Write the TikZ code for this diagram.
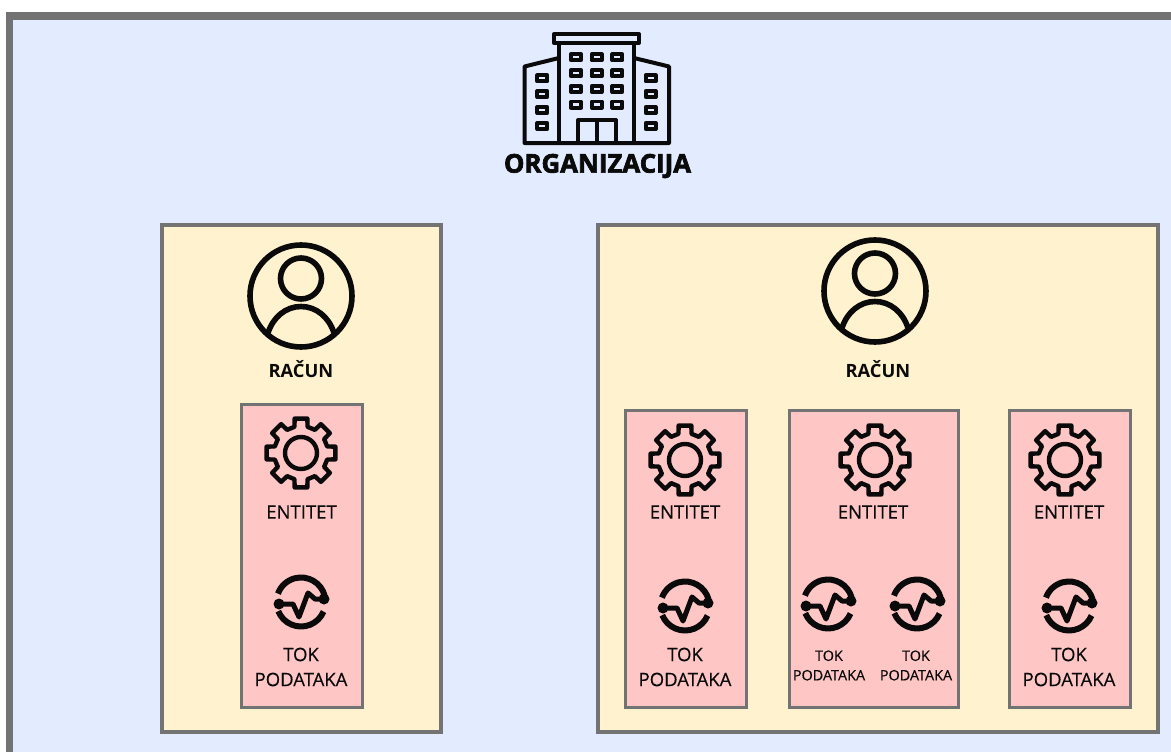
\documentclass[tikz,border=0pt]{standalone}
\usepackage{fontspec}
\setmainfont{Open Sans}
\newfontfamily\heavyfont[BoldFeatures={FakeBold=2.6}]{Open Sans}
\newfontfamily\labfont[FakeBold=0.3]{Open Sans}
\definecolor{frameg}{HTML}{737373}
\definecolor{orgbg}{HTML}{E2EBFF}
\definecolor{acct}{HTML}{FFF2CF}
\definecolor{pinkbg}{HTML}{FFC6C6}
\definecolor{ink}{HTML}{0A0A0A}
\tikzset{
  acctbox/.style={draw=frameg,fill=acct,line width=4pt},
  entbox/.style={draw=frameg,fill=pinkbg,line width=3pt},
  icon/.style={draw=ink,line width=4pt,line join=round,line cap=round},
  winbox/.style={icon,line width=3.8pt},
  lab/.style={inner sep=0pt,align=center,text=ink},
  biglab/.style={lab,font=\fontsize{18.5}{25}\selectfont\labfont},
  smalllab/.style={lab,font=\fontsize{14.4}{19.5}\selectfont\labfont},
  acctlab/.style={lab,font=\fontsize{18.3}{20}\selectfont\bfseries},
  orglab/.style={lab,font=\fontsize{25.8}{24}\selectfont\heavyfont\bfseries},
}
\newcommand{\personicon}[2]{%
  \begin{scope}[shift={(#1,#2)}]
    \draw[icon,line width=5.6pt] (0,0) circle (51);
    \draw[icon,line width=5.6pt] (0,-17.5) circle (20.5);
    \draw[icon,line width=5.6pt,line cap=butt] (-33,37) .. controls (-28,21) and (-15,10.5) .. (0,10.5) .. controls (15,10.5) and (28,21) .. (33,37);
  \end{scope}}
\newcommand{\flowicon}[2]{%
  \begin{scope}[shift={(#1,#2)}]
    \draw[icon,line width=6pt,line cap=butt] (23:24.5) arc (23:158:24.5);
    \draw[icon,line width=6pt,line cap=butt] (-15:24.5) arc (-15:-160:24.5);
    \draw[icon,line width=5pt] (-22,2) -- (-8,2) -- (-2,15) -- (7,-9) -- (14,-3) -- (23,-3);
    \fill[ink] (-22,2) circle (5.5) (23,-3) circle (5.5);
  \end{scope}}
\begin{document}
\begin{tikzpicture}[x=1pt,y=-1pt]
\useasboundingbox (0,0) rectangle (1171,752);
\fill[white] (0,0) rectangle (1171,752);
\fill[orgbg] (9.7,16) rectangle (1171,752);
\draw[frameg,line width=7.5pt] (9.7,752) -- (9.7,16) -- (1171,16);
% building
\begin{scope}
  \draw[icon] (554,34) rectangle (639,43);
  \draw[icon] (559,43) -- (559,143) (634,43) -- (634,143);
  \draw[icon] (559,58) -- (524.5,66.5) -- (524.5,143) -- (669,143) -- (669,66.5) -- (634,58);
  \foreach \cx in {576,596.7,617.3} \foreach \cy in {57.3,73.3,89,104.7}
    \draw[winbox] (\cx-5,\cy-3.1) rectangle (\cx+5,\cy+3.1);
  \foreach \cx in {542.3,650.7} \foreach \cy in {78.3,94,110,126}
    \draw[winbox] (\cx-5,\cy-3.1) rectangle (\cx+5,\cy+3.1);
  \draw[icon] (578,143) -- (578,120) -- (616,120) -- (616,143) (597,120) -- (597,143);
\end{scope}
\node[orglab] (org) at (597.5,166) {ORGANIZACIJA};
% accounts
\draw[acctbox] (162,225) rectangle (441,731.5);
\draw[acctbox] (598,225) rectangle (1158,731.5);
\personicon{301}{296}
\personicon{875}{291}
\node[acctlab] (r1) at (301,369) {RAČUN};
\node[acctlab] (r2) at (878,369) {RAČUN};
% entity boxes
\draw[entbox] (241.5,404) rectangle (362,707.5);
\draw[entbox] (625,410) rectangle (746,707.5);
\draw[entbox] (789,410) rectangle (958,707.5);
\draw[entbox] (1009,410) rectangle (1130,707.5);
\foreach \gx/\gy in {301/453,685/460,875/460,1065/460} {
  \begin{scope}[shift={(\gx,\gy)}]
    \draw[icon,line width=4.4pt] (0,0) circle (16);
    \draw[icon,line width=4.4pt]
      (79.5:35) -- (100.5:35) -- (104:27) -- (121:27) -- (124.5:35) -- (145.5:35)
      -- (149:27) -- (166:27) -- (169.5:35) -- (190.5:35) -- (194:27) -- (211:27)
      -- (214.5:35) -- (235.5:35) -- (239:27) -- (256:27) -- (259.5:35) -- (280.5:35)
      -- (284:27) -- (301:27) -- (304.5:35) -- (325.5:35) -- (329:27) -- (346:27)
      -- (349.5:35) -- (10.5:35) -- (14:27) -- (31:27) -- (34.5:35) -- (55.5:35)
      -- (59:27) -- (76:27) -- cycle;
  \end{scope}
}
\node[biglab] (e1) at (301.5,512) {ENTITET};
\node[biglab] (e2) at (685,512) {ENTITET};
\node[biglab] (e3) at (873,512) {ENTITET};
\node[biglab] (e4) at (1069,512) {ENTITET};
\flowicon{301}{602}
\flowicon{685}{606}
\flowicon{828}{604}
\flowicon{917}{604}
\flowicon{1069}{606}
\node[biglab] (t1) at (301,667) {TOK\\PODATAKA};
\node[biglab] (t2) at (685,667) {TOK\\PODATAKA};
\node[smalllab] (t3) at (829,665.5) {TOK\\PODATAKA};
\node[smalllab] (t4) at (916,665.5) {TOK\\PODATAKA};
\node[biglab] (t5) at (1069,667) {TOK\\PODATAKA};
\end{tikzpicture}
\end{document}
